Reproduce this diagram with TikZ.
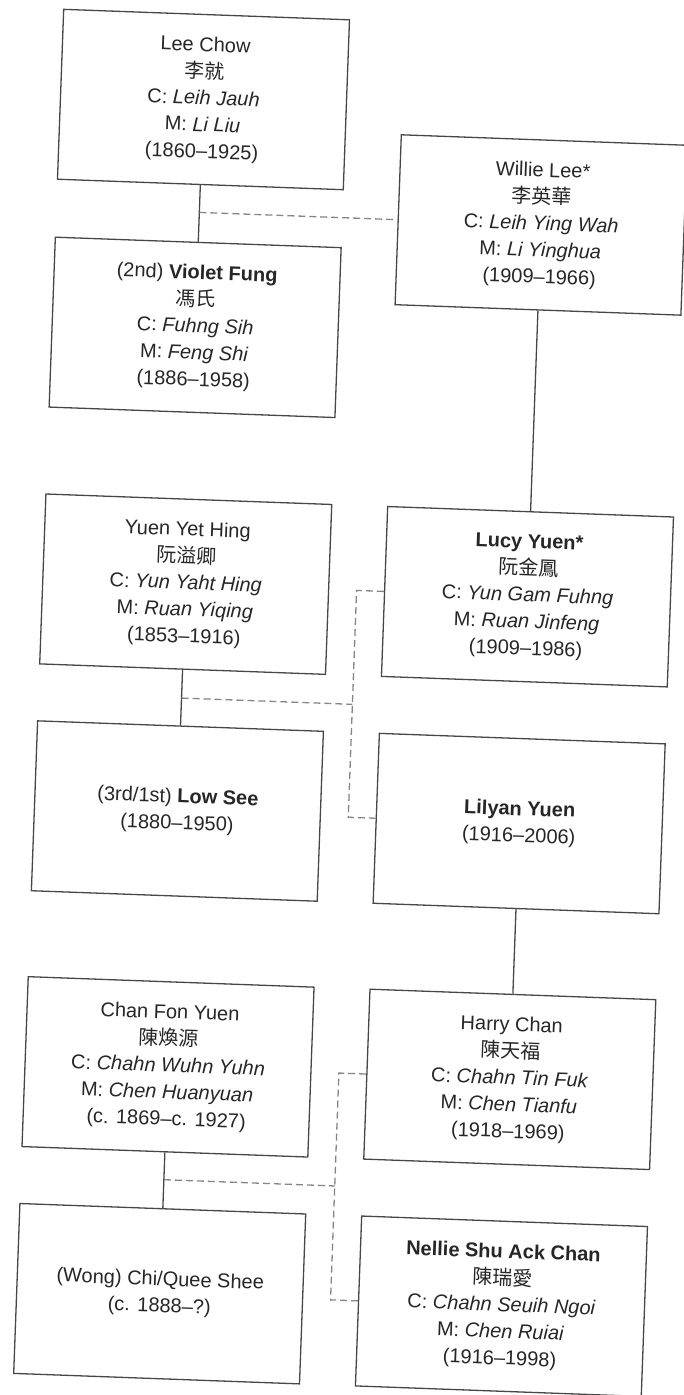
\documentclass[tikz,border=0pt]{standalone}
\usepackage{fontspec}
\setmainfont{Liberation Sans}
\newfontfamily\cjk{Noto Sans CJK TC}
\usetikzlibrary{calc}
\definecolor{boxline}{HTML}{474747}
\definecolor{txt}{HTML}{262626}
\definecolor{dashline}{HTML}{858585}
\tikzset{
  person/.style={draw=boxline, line width=1.3pt, minimum width=286pt, minimum height=170pt,
    inner sep=0pt, align=center, text=txt, font=\fontsize{20}{26.7}\selectfont},
  link/.style={draw=boxline, line width=1.3pt},
  spouse/.style={draw=dashline, line width=1.3pt, dash pattern=on 7pt off 4pt}
}
\begin{document}
\begin{tikzpicture}[x=1pt,y=-1pt]
\useasboundingbox (0,0) rectangle (683,1395);
\begin{scope}[rotate=-2.1, transform shape]
% group 1
\node[person] (lee) at (207,92) {Lee Chow\\{\cjk 李就}\\C: \textit{Leih Jauh}\\M: \textit{Li Liu}\\(1860–1925)};
\node[person] (violet) at (207,320) {(2nd) \textbf{Violet Fung}\\{\cjk 馮氏}\\C: \textit{Fuhng Sih}\\M: \textit{Feng Shi}\\(1886–1958)};
\node[person] (willie) at (549,205) {Willie Lee*\\{\cjk 李英華}\\C: \textit{Leih Ying Wah}\\M: \textit{Li Yinghua}\\(1909–1966)};
% group 2
\node[person] (yuen) at (207,577) {Yuen Yet Hing\\{\cjk 阮溢卿}\\C: \textit{Yun Yaht Hing}\\M: \textit{Ruan Yiqing}\\(1853–1916)};
\node[person] (low) at (207,804) {(3rd/1st) \textbf{Low See}\\(1880–1950)};
\node[person] (lucy) at (549,577) {\textbf{Lucy Yuen*}\\{\cjk 阮金鳳}\\C: \textit{Yun Gam Fuhng}\\M: \textit{Ruan Jinfeng}\\(1909–1986)};
\node[person] (lilyan) at (549,804) {\textbf{Lilyan Yuen}\\(1916–2006)};
% group 3
\node[person] (chan) at (207,1060) {Chan Fon Yuen\\{\cjk 陳煥源}\\C: \textit{Chahn Wuhn Yuhn}\\M: \textit{Chen Huanyuan}\\(c. 1869–c. 1927)};
\node[person] (wong) at (207,1287) {(Wong) Chi/Quee Shee\\(c. 1888–?)};
\node[person] (harry) at (549,1060) {Harry Chan\\{\cjk 陳天福}\\C: \textit{Chahn Tin Fuk}\\M: \textit{Chen Tianfu}\\(1918–1969)};
\node[person] (nellie) at (549,1287) {\textbf{Nellie Shu Ack Chan}\\{\cjk 陳瑞愛}\\C: \textit{Chahn Seuih Ngoi}\\M: \textit{Chen Ruiai}\\(1916–1998)};
% junction coordinates
\coordinate (j1) at (207,205);
\coordinate (j2) at (207,691);
\coordinate (j2e) at (378,691);
\coordinate (c2a) at (378,577);
\coordinate (c2b) at (378,804);
\coordinate (j3) at (207,1173);
\coordinate (j3e) at (378,1173);
\coordinate (c3a) at (378,1060);
\coordinate (c3b) at (378,1287);
% solid lines
\draw[link] (lee.south) -- (violet.north);
\draw[link] (willie.south) -- (lucy.north);
\draw[link] (yuen.south) -- (low.north);
\draw[link] (lilyan.south) -- (harry.north);
\draw[link] (chan.south) -- (wong.north);
% dashed lines
\draw[spouse] (j1) -- (willie.west);
\draw[spouse] (lucy.west) -- (c2a) -- (c2b) -- (lilyan.west);
\draw[spouse] (j2) -- (j2e);
\draw[spouse] (harry.west) -- (c3a) -- (c3b) -- (nellie.west);
\draw[spouse] (j3) -- (j3e);
\end{scope}
\end{tikzpicture}
\end{document}
